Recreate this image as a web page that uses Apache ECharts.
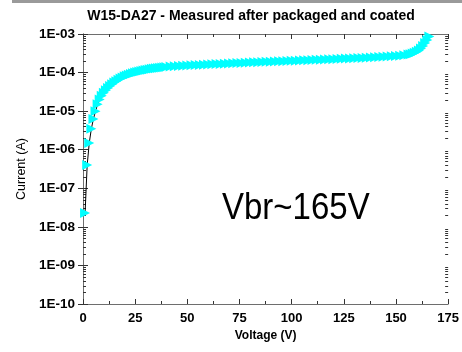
<!DOCTYPE html>
<html>
<head>
<meta charset="utf-8">
<script src="https://cdn.jsdelivr.net/npm/echarts@6/dist/echarts.min.js"></script>
<style>
  html, body { margin: 0; padding: 0; background: #fff; }
  #chart { width: 462px; height: 352px; }
</style>
</head>
<body>
<div id="chart"></div>
<script>
// Reverse I-V sweep of device W15-DA27 (after packaging and coating)
const voltage = [
  1, 2, 3, 4, 5, 6, 7, 8, 9, 10,
  11, 12, 13, 14, 15, 16, 17, 18, 19, 20,
  21, 22, 23, 24, 25, 26, 27, 28, 29, 30,
  31, 32, 33, 34, 35, 36, 37, 38, 39, 40,
  42, 44, 46, 48, 50, 52, 54, 56, 58, 60,
  62, 64, 66, 68, 70, 72, 74, 76, 78, 80,
  82, 84, 86, 88, 90, 92, 94, 96, 98, 100,
  102, 104, 106, 108, 110, 112, 114, 116, 118, 120,
  122, 124, 126, 128, 130, 132, 134, 136, 138, 140,
  142, 144, 146, 148, 150, 152, 154, 156, 157, 158,
  159, 160, 161, 162, 163, 164, 165, 166
];
const current = [
  2.3e-8, 4.0e-7, 1.5e-6, 3.5e-6, 6.3e-6, 1.0e-5, 1.5e-5, 2.0e-5, 2.5e-5, 3.0e-5,
  3.5e-5, 4.0e-5, 4.5e-5, 5.0e-5, 5.5e-5, 6.0e-5, 6.5e-5, 7.0e-5, 7.5e-5, 8.0e-5,
  8.4e-5, 8.8e-5, 9.2e-5, 9.6e-5, 1.0e-4, 1.03e-4, 1.07e-4, 1.1e-4, 1.13e-4, 1.16e-4,
  1.19e-4, 1.22e-4, 1.25e-4, 1.28e-4, 1.30e-4, 1.32e-4, 1.34e-4, 1.36e-4, 1.38e-4, 1.40e-4,
  1.43e-4, 1.45e-4, 1.48e-4, 1.50e-4, 1.52e-4, 1.54e-4, 1.56e-4, 1.58e-4, 1.60e-4, 1.62e-4,
  1.64e-4, 1.66e-4, 1.68e-4, 1.70e-4, 1.72e-4, 1.74e-4, 1.76e-4, 1.78e-4, 1.80e-4, 1.82e-4,
  1.84e-4, 1.86e-4, 1.88e-4, 1.90e-4, 1.92e-4, 1.94e-4, 1.96e-4, 1.98e-4, 2.00e-4, 2.02e-4,
  2.04e-4, 2.06e-4, 2.08e-4, 2.10e-4, 2.12e-4, 2.14e-4, 2.16e-4, 2.18e-4, 2.20e-4, 2.22e-4,
  2.25e-4, 2.27e-4, 2.30e-4, 2.32e-4, 2.35e-4, 2.37e-4, 2.40e-4, 2.43e-4, 2.46e-4, 2.49e-4,
  2.52e-4, 2.56e-4, 2.60e-4, 2.64e-4, 2.69e-4, 2.75e-4, 2.82e-4, 2.92e-4, 3.0e-4, 3.1e-4,
  3.25e-4, 3.45e-4, 3.75e-4, 4.2e-4, 4.9e-4, 5.8e-4, 7.0e-4, 8.6e-4
];
const xTicks = [0, 25, 50, 75, 100, 125, 150, 175];
const yTickLabels = ['1E-10', '1E-09', '1E-08', '1E-07', '1E-06', '1E-05', '1E-04', '1E-03'];
const decadeMinorFactors = [2, 3, 4, 5, 6, 7, 8, 9];
const titleText = 'W15-DA27 - Measured after packaged and coated';
const noteText = 'Vbr~165V';

const FONT = '"Liberation Sans", Arial, sans-serif';
const AXIS_COLOR = '#6e6e6e';
const TICK_COLOR = '#333';

function yLabel(v) {
  const e = Math.round(Math.log10(v));
  return yTickLabels[e + 10] || '';
}

// minor tick values of the log axis: 2..9 x each decade
const minorTickValues = [];
for (let e = -10; e < -3; e++) {
  decadeMinorFactors.forEach(f => minorTickValues.push([f * Math.pow(10, e)]));
}

const chart = echarts.init(document.getElementById('chart'), null, { renderer: 'canvas' });

const axisBase = {
  axisLine: { show: true, lineStyle: { color: AXIS_COLOR, width: 1 } },
  splitLine: { show: false },
};

chart.setOption({
  animation: false,
  backgroundColor: '#ffffff',
  grid: { left: 83, right: 10, top: 34, bottom: 48, containLabel: false },
  title: {
    text: titleText,
    left: 246, top: 4, textAlign: 'center',
    textStyle: { fontFamily: FONT, fontWeight: 'bold', fontSize: 14, color: '#000' }
  },
  graphic: [
    { type: 'rect', left: 12, top: 0, shape: { width: 450, height: 3 }, style: { fill: '#9a9a9a' } },
    {
      type: 'text', x: 222, y: 190, scaleY: 1.12,
      style: { text: noteText, fontFamily: FONT, fontSize: 33, fill: '#000' }
    }
  ],
  xAxis: [
    Object.assign({}, axisBase, {
      type: 'value', min: xTicks[0], max: xTicks[xTicks.length - 1], interval: 25,
      position: 'bottom',
      name: 'Voltage (V)', nameLocation: 'middle', nameGap: 23,
      nameTextStyle: { fontFamily: FONT, fontWeight: 'bold', fontSize: 12, color: '#000' },
      axisTick: { show: true, inside: true, length: 5, lineStyle: { color: TICK_COLOR } },
      minorTick: { show: true, splitNumber: 2, length: 3, lineStyle: { color: TICK_COLOR } },
      axisLabel: { fontFamily: FONT, fontWeight: 'bold', fontSize: 13, color: '#000', margin: 8 }
    }),
    Object.assign({}, axisBase, {
      type: 'value', min: 0, max: 175, interval: 25, position: 'top',
      axisTick: { show: true, inside: true, length: 5, lineStyle: { color: TICK_COLOR } },
      minorTick: { show: true, splitNumber: 2, length: 3, lineStyle: { color: TICK_COLOR } },
      axisLabel: { show: false }
    })
  ],
  yAxis: [
    Object.assign({}, axisBase, {
      type: 'log', logBase: 10, min: 1e-10, max: 1e-3, position: 'left',
      name: 'Current (A)', nameLocation: 'middle', nameGap: 50, nameRotate: 90,
      nameTextStyle: { fontFamily: FONT, fontSize: 12.5, color: '#000' },
      axisTick: { show: true, inside: true, length: 5, lineStyle: { color: TICK_COLOR } },
      axisLabel: { fontFamily: FONT, fontWeight: 'bold', fontSize: 13.5, color: '#000', margin: 8, formatter: yLabel }
    }),
    Object.assign({}, axisBase, {
      type: 'log', logBase: 10, min: 1e-10, max: 1e-3, position: 'right',
      axisTick: { show: true, inside: true, length: 5, lineStyle: { color: TICK_COLOR } },
      axisLabel: { show: false }
    })
  ],
  series: [
    {
      // logarithmic minor ticks on both vertical frame edges
      type: 'custom',
      xAxisIndex: 0, yAxisIndex: 0,
      silent: true, clip: false, z: 1,
      data: minorTickValues,
      encode: { y: 0 },
      renderItem: function (params, api) {
        const v = api.value(0);
        const l = api.coord([xTicks[0], v]);
        const r = api.coord([xTicks[xTicks.length - 1], v]);
        const style = { stroke: TICK_COLOR, lineWidth: 1 };
        const y = Math.round(l[1]) + 0.5;
        return {
          type: 'group',
          children: [
            { type: 'line', shape: { x1: l[0], y1: y, x2: l[0] + 3, y2: y }, style: style },
            { type: 'line', shape: { x1: r[0], y1: y, x2: r[0] - 3, y2: y }, style: style }
          ]
        };
      }
    },
    {
      type: 'line',
      xAxisIndex: 0, yAxisIndex: 0,
      data: voltage.map((v, i) => [v, current[i]]),
      symbol: 'triangle',
      symbolRotate: -90,
      symbolSize: 10,
      showAllSymbol: true,
      itemStyle: { color: '#00ffff' },
      lineStyle: { color: '#000', width: 1 },
      z: 3
    }
  ]
});
</script>
</body>
</html>
